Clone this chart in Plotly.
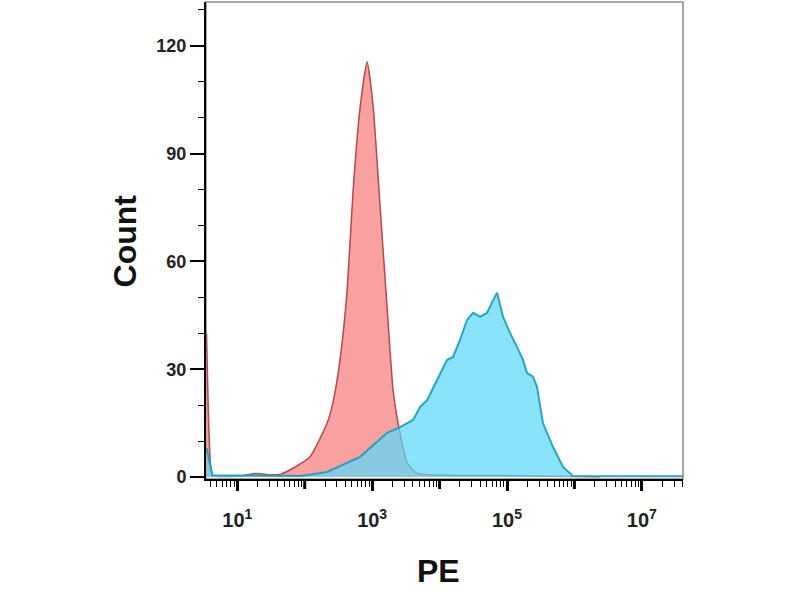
import plotly.graph_objects as go

# --------------------------
# Data (PE intensity vs count)
# --------------------------
RED_PE = [3.5, 3.85, 4.3, 11, 19, 31, 44, 68, 120, 215, 264, 336, 426, 523, 664,
          843, 1035, 1314, 1668, 2047, 2600, 3300, 4640, 14300, 78700, 2.4e6]
RED_COUNT = [40, 10, 0.5, 0.3, 1.0, 0.6, 0.8, 2.5, 5.6, 15, 21, 33, 52, 80, 103,
             115.6, 103, 75, 47, 24, 12, 4, 1, 0.5, 0.4, 0.1]

CYAN_PE = [3.5, 4.3, 86, 215, 664, 1668, 2600, 4050, 5140, 6530, 9180, 11270,
           12920, 15850, 20130, 25550, 31330, 39810, 50550, 55980, 71120, 87300,
           110700, 140600, 172600, 197700, 242700, 278000, 341300, 479900, 676000,
           950000, 4.1e7]
CYAN_COUNT = [8, 0.5, 0.3, 1.4, 5.6, 12.3, 13.9, 15.9, 19.5, 21.4, 27.0, 30.6,
              32.6, 33.4, 38.2, 43.7, 45.7, 44.6, 45.7, 47.4, 51.3, 44.6,
              40.1, 36.2, 32.6, 29.0, 27.9, 25.1, 15.0, 8.4, 2.8, 0.3, 0.2]

X_TICKVALS = [10, 1000, 1e5, 1e7]
X_TICKTEXT = ["10<sup>1</sup>", "10<sup>3</sup>", "10<sup>5</sup>", "10<sup>7</sup>"]
X_UNLABELED = [1, 100, 1e4, 1e6]  # decades that carry a tick but no label
Y_TICKVALS = [0, 30, 60, 90, 120]

FONT = "Arial, Liberation Sans, sans-serif"

fig = go.Figure()

fig.add_trace(go.Scatter(
    x=RED_PE, y=RED_COUNT, mode="lines", fill="tozeroy",
    fillcolor="#f9a0a0",
    line=dict(color="#b8484a", width=1.5, shape="spline", smoothing=0.5),
    showlegend=False, hoverinfo="skip",
))
fig.add_trace(go.Scatter(
    x=CYAN_PE, y=CYAN_COUNT, mode="lines", fill="tozeroy",
    fillcolor="rgba(91,216,248,0.72)",
    line=dict(color="rgba(25,155,190,0.9)", width=2),
    showlegend=False, hoverinfo="skip",
))

# minor ticks 2..9 in each decade
minor_x = [m * 10 ** d for d in range(0, 8) for m in range(2, 10)]

# thick ticks for the unlabeled decades (same look as the labeled ones)
shapes = [dict(type="rect", xref="paper", yref="paper", x0=0, x1=1, y0=0, y1=1,
               line=dict(color="#8a8a8a", width=1.5), layer="below")]
for v in X_UNLABELED:
    shapes.append(dict(type="line", xref="x", yref="paper", x0=v, x1=v,
                       y0=0, y1=-10 / 477, line=dict(color="black", width=3)))

fig.update_layout(
    width=800, height=600,
    paper_bgcolor="white", plot_bgcolor="white",
    margin=dict(l=206, r=117, t=2, b=121),
    font=dict(family=FONT, color="#222"),
    xaxis=dict(
        type="log", range=[0.536, 7.61],
        showgrid=False, zeroline=False,
        showline=True, linecolor="black", linewidth=2,
        ticks="outside", ticklen=10, tickwidth=3, tickcolor="black",
        tickmode="array", tickvals=X_TICKVALS, ticktext=X_TICKTEXT,
        tickfont=dict(size=20, family=FONT, weight="bold", color="#222"),
        ticklabelstandoff=12,
        minor=dict(ticks="outside", ticklen=6, tickwidth=1, tickcolor="black",
                   tickmode="array", tickvals=minor_x),
    ),
    yaxis=dict(
        range=[-0.56, 132.2],
        showgrid=False, zeroline=False,
        showline=True, linecolor="black", linewidth=2,
        ticks="outside", ticklen=14, tickwidth=2, tickcolor="black",
        tickmode="array", tickvals=Y_TICKVALS,
        tickfont=dict(size=18, family=FONT, weight="bold", color="#222"),
        minor=dict(ticks="outside", ticklen=6, tickwidth=1, tickcolor="black",
                   dtick=10),
    ),
    shapes=shapes,
    annotations=[
        dict(text="<b>PE</b>", xref="paper", yref="paper", x=0.487, y=-0.192,
             xanchor="center", yanchor="middle", showarrow=False,
             font=dict(size=32, family=FONT, color="#111")),
        dict(text="<b>Count</b>", xref="paper", yref="paper", x=-0.17, y=0.5,
             xanchor="center", yanchor="middle", showarrow=False, textangle=-90,
             font=dict(size=32, family=FONT, color="#111")),
    ],
)

fig.write_html("out.html", config={"displayModeBar": False},
               post_script="document.body.style.margin='0px';")
